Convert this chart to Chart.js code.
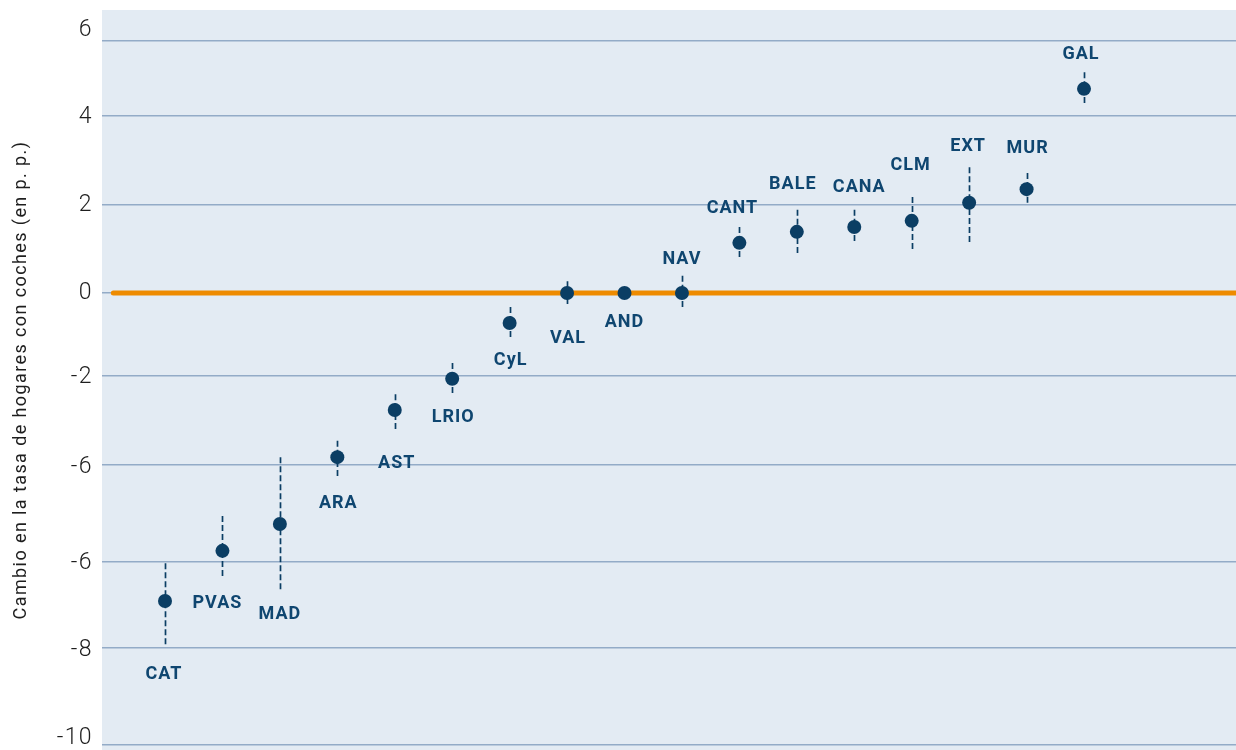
<!DOCTYPE html>
<html>
<head>
<meta charset="utf-8">
<script src="https://cdn.jsdelivr.net/npm/chart.js@4.4.0/dist/chart.umd.min.js"></script>
<style>
  html, body { margin: 0; padding: 0; background: #ffffff; }
  canvas { display: block; }
</style>
</head>
<body>
<canvas id="chart" width="1236" height="750"></canvas>
<script>
// Regions, ordered by change
const regions = ["CAT", "PVAS", "MAD", "ARA", "AST", "LRIO", "CyL", "VAL", "AND", "NAV",
                 "CANT", "BALE", "CANA", "CLM", "EXT", "MUR", "GAL"];
// Change in the share of households with cars (percentage points)
const change = [-7.00, -5.86, -5.25, -3.73, -2.66, -1.95, -0.68, 0.00, 0.00, 0.00,
                1.14, 1.39, 1.50, 1.64, 2.05, 2.36, 4.64];
// Interval bounds
const low  = [-7.98, -6.43, -6.73, -4.16, -3.09, -2.27, -1.00, -0.25, -0.05, -0.32,
              0.82, 0.91, 1.18, 1.00, 1.16, 2.05, 4.32];
const high = [-6.14, -5.07, -3.73, -3.36, -2.30, -1.59, -0.32, 0.27, 0.05, 0.39,
              1.50, 1.89, 1.89, 2.18, 2.86, 2.73, 5.02];
// Y axis: gridline values, tick label values and tick label texts
const gridValues = [5.73, 4.02, 2.0, 0, -1.89, -3.91, -6.11, -8.07, -10.27];
const tickValues = [5.98, 4.0, 2.0, 0, -1.91, -3.95, -6.14, -8.11, -10.11];
const tickLabels = ["6", "4", "2", "0", "-2", "-6", "-6", "-8", "-10"];
const zeroValue = 0;

// Label placement around each point (pixels, dx / dy from the point)
const labelOffsets = [[-1, 73], [-5, 53], [0, 90], [1, 46], [2, 53], [1, 39], [1, 38], [1, 45],
                      [0, 29], [0, -34], [-7, -34], [-4, -47], [5, -40], [-1, -55], [-1, -56],
                      [1, -41], [-3, -34]];

const NAVY = '#0b3e64';
const LABEL_NAVY = '#0f4670';
const X_MIN = -0.097, X_MAX = 19.646;
const Y_MIN = -10.386, Y_MAX = 6.432;

Chart.defaults.font.family = 'Roboto, "Open Sans", sans-serif';

const points = regions.map((r, i) => ({ x: i + 1, y: change[i] }));

const plotBackground = {
  id: 'plotBackground',
  beforeDraw(chart) {
    const { ctx, chartArea: a } = chart;
    ctx.save();
    ctx.fillStyle = '#e3ebf3';
    ctx.fillRect(a.left, a.top, a.right - a.left, a.bottom - a.top);
    ctx.restore();
    // slightly tracked text for the axis
    if ('letterSpacing' in ctx) ctx.letterSpacing = '1.4px';
  },
  beforeDatasetsDraw(chart) {
    if ('letterSpacing' in chart.ctx) chart.ctx.letterSpacing = '0px';
  }
};

// Dashed interval lines, each half dashed from its outer end towards the point
const intervalBars = {
  id: 'intervalBars',
  beforeDatasetDraw(chart, args) {
    if (args.index !== 0) return;
    const { ctx } = chart;
    const xs = chart.scales.x, ys = chart.scales.y;
    ctx.save();
    ctx.strokeStyle = NAVY;
    ctx.lineWidth = 1.7;
    ctx.setLineDash([6, 3]);
    regions.forEach((r, i) => {
      const px = Math.round(xs.getPixelForValue(i + 1)) + 0.5;
      const pc = ys.getPixelForValue(change[i]);
      ctx.beginPath();
      ctx.moveTo(px, ys.getPixelForValue(high[i]));
      ctx.lineTo(px, pc);
      ctx.stroke();
      ctx.beginPath();
      ctx.moveTo(px, ys.getPixelForValue(low[i]));
      ctx.lineTo(px, pc);
      ctx.stroke();
    });
    ctx.restore();
  }
};

const regionLabels = {
  id: 'regionLabels',
  afterDatasetsDraw(chart) {
    const { ctx } = chart;
    const xs = chart.scales.x, ys = chart.scales.y;
    ctx.save();
    ctx.fillStyle = LABEL_NAVY;
    ctx.font = 'bold 18px Roboto, "Open Sans", sans-serif';
    if ('letterSpacing' in ctx) ctx.letterSpacing = '1px';
    ctx.textAlign = 'center';
    ctx.textBaseline = 'middle';
    regions.forEach((r, i) => {
      const px = xs.getPixelForValue(i + 1) + labelOffsets[i][0];
      const py = ys.getPixelForValue(change[i]) + labelOffsets[i][1];
      ctx.fillText(r, px, py);
    });
    ctx.restore();
  }
};

function noScalePadding(scale) {
  scale.paddingTop = 0;
  scale.paddingBottom = 0;
  scale.paddingLeft = 0;
  scale.paddingRight = 0;
}

new Chart(document.getElementById('chart'), {
  type: 'scatter',
  data: {
    datasets: [
      {
        label: 'Regiones',
        data: points,
        order: 0,
        pointRadius: 7,
        pointBackgroundColor: NAVY,
        pointBorderWidth: 0,
        showLine: false
      },
      {
        label: 'Cero',
        data: [{ x: 0.1, y: zeroValue }, { x: X_MAX, y: zeroValue }],
        order: 1,
        showLine: true,
        borderColor: '#ee8b00',
        borderWidth: 5,
        borderCapStyle: 'round',
        pointRadius: 0
      }
    ]
  },
  options: {
    responsive: false,
    animation: false,
    events: [],
    layout: { autoPadding: false, padding: { top: 10, bottom: 0, left: 0, right: 0 } },
    plugins: {
      legend: { display: false },
      tooltip: { enabled: false }
    },
    scales: {
      x: {
        type: 'linear',
        display: false,
        min: X_MIN,
        max: X_MAX
      },
      y: {
        type: 'linear',
        position: 'left',
        min: Y_MIN,
        max: Y_MAX,
        afterBuildTicks(scale) {
          scale.ticks = gridValues.map(v => ({ value: v }));
        },
        afterFit(scale) { scale.width = 0; noScalePadding(scale); },
        ticks: { display: false, autoSkip: false },
        border: { display: false },
        grid: { color: '#93abc7', lineWidth: 1.6, drawTicks: false }
      },
      yLabels: {
        type: 'linear',
        position: 'left',
        min: Y_MIN,
        max: Y_MAX,
        afterBuildTicks(scale) {
          scale.ticks = tickValues.map(v => ({ value: v }));
        },
        afterFit(scale) { scale.width = 102; noScalePadding(scale); },
        border: { display: false },
        grid: { display: false, drawTicks: false },
        ticks: {
          autoSkip: false,
          padding: 9,
          color: '#1e1e1e',
          font: { size: 23, weight: 300 },
          callback: (value, index) => tickLabels[index]
        },
        title: {
          display: true,
          text: 'Cambio en la tasa de hogares con coches (en p. p.)',
          color: '#1e1e1e',
          font: { size: 18, weight: 400 },
          padding: { top: 11, bottom: 0 }
        }
      }
    }
  },
  plugins: [plotBackground, intervalBars, regionLabels]
});
</script>
</body>
</html>
